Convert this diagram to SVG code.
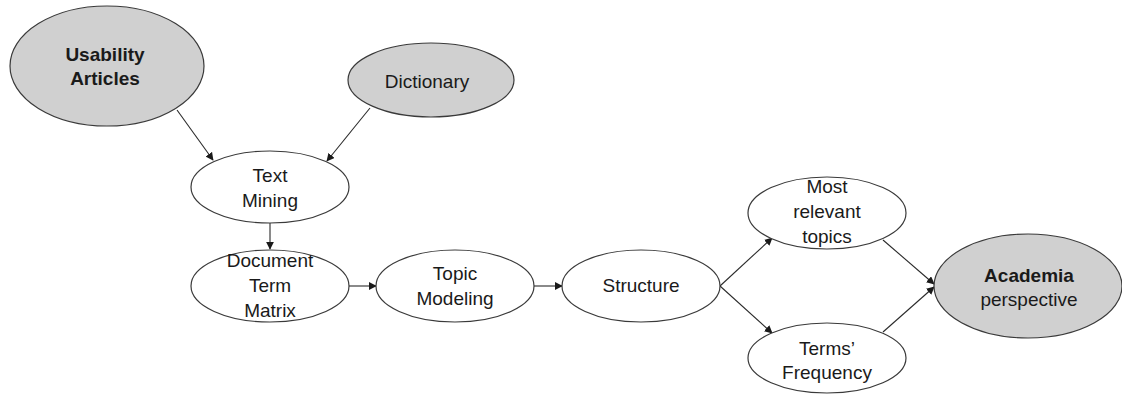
<svg xmlns="http://www.w3.org/2000/svg" width="1122" height="394" viewBox="0 0 1122 394">
  <defs>
    <style>
      .node { stroke: #3a3a3a; stroke-width: 1.2; }
      .src { fill: #d0d0d0; }
      .step { fill: #ffffff; }
      .lbl { font-family: "Liberation Sans", Arial, sans-serif; font-size: 19px; fill: #1a1a1a; text-anchor: middle; }
      .bold { font-weight: bold; }
      .edge { stroke: #2a2a2a; stroke-width: 1.1; fill: none; marker-end: url(#arrow); }
    </style>
    <marker id="arrow" viewBox="0 0 10 10" refX="9" refY="5" markerWidth="8" markerHeight="8" markerUnits="userSpaceOnUse" orient="auto">
      <path d="M0,0 L10,5 L0,10 z" fill="#1a1a1a"/>
    </marker>
  </defs>
  <rect width="1122" height="394" fill="#ffffff"/>

  <g id="connectors">
    <line class="edge" x1="177" y1="110" x2="213" y2="160"/>
    <line class="edge" x1="370" y1="108" x2="327" y2="161"/>
    <line class="edge" x1="270" y1="223" x2="270" y2="249"/>
    <line class="edge" x1="349" y1="286" x2="376" y2="286"/>
    <line class="edge" x1="534" y1="286" x2="562" y2="286"/>
    <line class="edge" x1="720" y1="286" x2="772" y2="238"/>
    <line class="edge" x1="720" y1="286" x2="772" y2="333"/>
    <line class="edge" x1="883" y1="240" x2="934" y2="284"/>
    <line class="edge" x1="883" y1="332" x2="934" y2="287"/>
  </g>

  <g id="usability-articles">
    <ellipse class="node src" cx="107" cy="66" rx="97" ry="60"/>
    <text class="lbl bold" x="105" y="61">Usability</text>
    <text class="lbl bold" x="105" y="85">Articles</text>
  </g>

  <g id="dictionary">
    <ellipse class="node src" cx="431" cy="80" rx="83" ry="37"/>
    <text class="lbl" x="427" y="88">Dictionary</text>
  </g>

  <g id="text-mining">
    <ellipse class="node step" cx="270" cy="187" rx="79" ry="36"/>
    <text class="lbl" x="270" y="182">Text</text>
    <text class="lbl" x="270" y="207">Mining</text>
  </g>

  <g id="document-term-matrix">
    <ellipse class="node step" cx="270" cy="286" rx="79" ry="36"/>
    <text class="lbl" x="270" y="267">Document</text>
    <text class="lbl" x="270" y="292">Term</text>
    <text class="lbl" x="270" y="317">Matrix</text>
  </g>

  <g id="topic-modeling">
    <ellipse class="node step" cx="455" cy="286" rx="79" ry="36"/>
    <text class="lbl" x="455" y="280">Topic</text>
    <text class="lbl" x="455" y="305">Modeling</text>
  </g>

  <g id="structure">
    <ellipse class="node step" cx="641" cy="286" rx="79" ry="36"/>
    <text class="lbl" x="641" y="292">Structure</text>
  </g>

  <g id="most-relevant-topics">
    <ellipse class="node step" cx="827" cy="213" rx="79" ry="36"/>
    <text class="lbl" x="827" y="193">Most</text>
    <text class="lbl" x="827" y="218">relevant</text>
    <text class="lbl" x="827" y="243">topics</text>
  </g>

  <g id="terms-frequency">
    <ellipse class="node step" cx="827" cy="358" rx="79" ry="35"/>
    <text class="lbl" x="827" y="355">Terms’</text>
    <text class="lbl" x="827" y="379">Frequency</text>
  </g>

  <g id="academia-perspective">
    <ellipse class="node src" cx="1028" cy="286" rx="94" ry="52"/>
    <text class="lbl bold" x="1029" y="282">Academia</text>
    <text class="lbl" x="1029" y="306">perspective</text>
  </g>
</svg>
